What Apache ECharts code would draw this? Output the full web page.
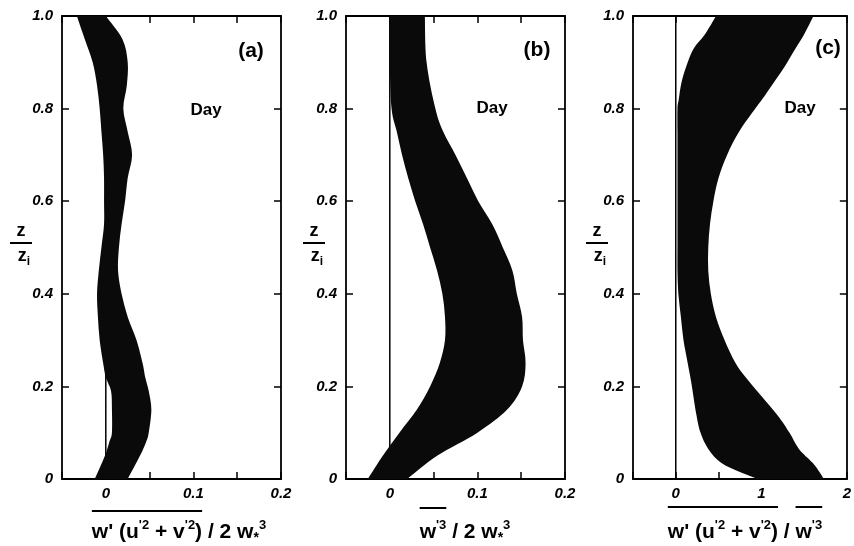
<!DOCTYPE html>
<html>
<head>
<meta charset="utf-8">
<script src="https://cdn.jsdelivr.net/npm/echarts@6/dist/echarts.min.js"></script>
<style>
  html, body { margin: 0; padding: 0; background: #fff; }
  #chart { width: 854px; height: 546px; }
</style>
</head>
<body>
<div id="chart"></div>
<script>
// z / zi levels and band edges, one set per panel
const zA = [0, 0.05, 0.08, 0.1, 0.15, 0.19, 0.22, 0.25, 0.3, 0.35, 0.4, 0.45, 0.5, 0.55, 0.6, 0.65, 0.7, 0.75, 0.8, 0.85, 0.9, 0.95, 1.0];
const leftA = [-0.0125, -0.001, 0.004, 0.007, 0.007, 0.006, 0.0, -0.003, -0.007, -0.009, -0.010, -0.008, -0.005, -0.002, -0.002, -0.002, -0.003, -0.005, -0.007, -0.010, -0.015, -0.024, -0.033];
const rightA = [0.025, 0.039, 0.046, 0.049, 0.052, 0.049, 0.045, 0.042, 0.035, 0.025, 0.018, 0.014, 0.015, 0.018, 0.022, 0.025, 0.030, 0.025, 0.020, 0.024, 0.025, 0.019, 0.0];

const zB = [0, 0.05, 0.1, 0.15, 0.2, 0.25, 0.3, 0.35, 0.4, 0.45, 0.5, 0.55, 0.6, 0.65, 0.7, 0.75, 0.8, 0.9, 1.0];
const leftB = [-0.025, -0.008, 0.011, 0.031, 0.046, 0.057, 0.063, 0.063, 0.060, 0.054, 0.046, 0.038, 0.029, 0.021, 0.014, 0.008, 0.002, 0.0, 0.0];
const rightB = [0.020, 0.054, 0.100, 0.134, 0.151, 0.155, 0.152, 0.151, 0.145, 0.140, 0.129, 0.117, 0.101, 0.088, 0.075, 0.061, 0.052, 0.042, 0.040];

const zC = [0, 0.015, 0.035, 0.065, 0.1, 0.14, 0.21, 0.25, 0.3, 0.35, 0.4, 0.45, 0.5, 0.55, 0.6, 0.65, 0.7, 0.75, 0.8, 0.82, 0.855, 0.89, 0.93, 0.96, 1.0];
const leftC = [0.96, 0.75, 0.53, 0.38, 0.29, 0.24, 0.18, 0.14, 0.09, 0.06, 0.03, 0.02, 0.02, 0.02, 0.02, 0.02, 0.02, 0.02, 0.02, 0.035, 0.065, 0.12, 0.21, 0.34, 0.47];
const rightC = [1.73, 1.68, 1.60, 1.44, 1.33, 1.18, 0.86, 0.70, 0.57, 0.47, 0.41, 0.38, 0.38, 0.40, 0.44, 0.50, 0.60, 0.74, 0.93, 1.01, 1.14, 1.27, 1.40, 1.50, 1.61];

// tick labels
const yLabels = ['0', '0.2', '0.4', '0.6', '0.8', '1.0'];
const xLabelsAB = ['0', '0.1', '0.2'];
const xLabelsC = ['0', '1', '2'];
const panelTags = ['(a)', '(b)', '(c)'];

// axis titles as [text, style] pieces; 'bar' marks pieces under an overbar
const titleA = [["w' (u", 'm', 1], ["'2", 's', 1], [' + v', 'm', 1], ["'2", 's', 1], [')', 'm', 1], [' / 2 w', 'm', 0], ['*', 'b', 0], ['3', 's', 0]];
const titleB = [['w', 'm', 1], ["'3", 's', 1], [' / 2 w', 'm', 0], ['*', 'b', 0], ['3', 's', 0]];
const titleC = [["w' (u", 'm', 1], ["'2", 's', 1], [' + v', 'm', 1], ["'2", 's', 1], [')', 'm', 1], [' / ', 'm', 0], ['w', 'm', 2], ["'3", 's', 2]];

const FONT = 'Liberation Sans';
const panels = [
  { z: zA, left: leftA, right: rightA, min: -0.05, max: 0.2, step: 0.05, labels: xLabelsAB, title: titleA },
  { z: zB, left: leftB, right: rightB, min: -0.05, max: 0.2, step: 0.05, labels: xLabelsAB, title: titleB },
  { z: zC, left: leftC, right: rightC, min: -0.5, max: 2, step: 0.5, labels: xLabelsC, title: titleC }
];
const gridLeft = [62, 346, 633];

// catmull-rom through the points, as cubic bezier segments
function smoothEdge(pts) {
  let d = '';
  for (let i = 0; i < pts.length - 1; i++) {
    const p0 = pts[Math.max(i - 1, 0)], p1 = pts[i], p2 = pts[i + 1], p3 = pts[Math.min(i + 2, pts.length - 1)];
    const c1 = [p1[0] + (p2[0] - p0[0]) / 6, p1[1] + (p2[1] - p0[1]) / 6];
    const c2 = [p2[0] - (p3[0] - p1[0]) / 6, p2[1] - (p3[1] - p1[1]) / 6];
    d += ' C' + c1.join(',') + ' ' + c2.join(',') + ' ' + p2.join(',');
  }
  return d;
}

const tickLabel = { fontFamily: FONT, fontWeight: 'bold', fontStyle: 'italic', fontSize: 15, color: '#000' };
const axisLine = { show: true, onZero: false, lineStyle: { color: '#000', width: 1.8 } };
const tick = { show: true, inside: true, length: 7, lineStyle: { color: '#000', width: 1.5 } };

const grid = [], xAxis = [], yAxis = [], series = [];
panels.forEach((p, g) => {
  grid.push({ left: gridLeft[g], top: 16, width: 219, height: 463 });
  xAxis.push({
    type: 'value', gridIndex: g, min: p.min, max: p.max, interval: p.step, position: 'bottom',
    axisLine: axisLine, axisTick: tick, splitLine: { show: false },
    axisLabel: Object.assign({ margin: 7, formatter: v => {
      const s = String(Math.round(v * 100) / 100);
      return p.labels.indexOf(s) >= 0 ? s : '';
    } }, tickLabel)
  });
  xAxis.push({
    type: 'value', gridIndex: g, min: p.min, max: p.max, interval: p.step, position: 'top',
    axisLine: axisLine, axisTick: tick, axisLabel: { show: false }, splitLine: { show: false }
  });
  yAxis.push({
    type: 'value', gridIndex: g, min: 0, max: 1, interval: 0.2, position: 'left',
    axisLine: axisLine, axisTick: tick, splitLine: { show: false },
    axisLabel: Object.assign({ margin: 9, formatter: (v) => yLabels[Math.round(v * 5)] }, tickLabel)
  });
  yAxis.push({
    type: 'value', gridIndex: g, min: 0, max: 1, interval: 0.2, position: 'right',
    axisLine: axisLine, axisTick: tick, axisLabel: { show: false }, splitLine: { show: false }
  });
  series.push({
    type: 'custom',
    xAxisIndex: 2 * g, yAxisIndex: 2 * g,
    clip: true,
    encode: { x: [0, 1], y: 2 },
    data: p.z.map((z, i) => [p.left[i], p.right[i], z]),
    renderItem: (params, api) => {
      if (params.dataIndex !== 0) return;
      const L = p.z.map((z, i) => api.coord([p.left[i], z]));
      const R = p.z.map((z, i) => api.coord([p.right[i], z])).reverse();
      const d = 'M' + L[0].join(',') + smoothEdge(L) + ' L' + R[0].join(',') + smoothEdge(R) + ' Z';
      const a = api.coord([0, 0]), b = api.coord([0, 1]);
      return {
        type: 'group',
        children: [
          { type: 'line', shape: { x1: a[0], y1: a[1], x2: b[0], y2: b[1] }, style: { stroke: '#000', lineWidth: 1.5 } },
          { type: 'path', shape: { pathData: d }, style: { fill: '#0a0a0a' } }
        ]
      };
    }
  });
});

// text decorations
const sizes = { m: 21, s: 13, b: 14 };
const rich = {
  m: { fontFamily: FONT, fontWeight: 'bold', fontSize: sizes.m },
  s: { fontFamily: FONT, fontWeight: 'bold', fontSize: sizes.s, padding: [0, 0, 13, 0] },
  b: { fontFamily: FONT, fontWeight: 'bold', fontSize: sizes.b, padding: [12, 0, 0, 0] },
  i: { fontFamily: FONT, fontWeight: 'bold', fontSize: 12, padding: [11, 0, 0, 0] }
};
const ctx = document.createElement('canvas').getContext('2d');
function textWidth(t, k) {
  ctx.font = 'bold ' + sizes[k] + 'px "' + FONT + '"';
  return ctx.measureText(t).width;
}

const graphic = [];
const tagPos = [[251, 51], [537, 50], [828, 48]];
const dayPos = [[206, 110], [492, 108], [800, 108]];
const fracX = [21, 314, 597];
const titleCenter = [179, 465, 745];
const barY = [511, 508, 507];
panels.forEach((p, g) => {
  graphic.push({ type: 'text', x: tagPos[g][0], y: tagPos[g][1], style: { text: panelTags[g], fontFamily: FONT, fontWeight: 'bold', fontSize: 21, fill: '#000', align: 'center', verticalAlign: 'middle' } });
  graphic.push({ type: 'text', x: dayPos[g][0], y: dayPos[g][1], style: { text: 'Day', fontFamily: FONT, fontWeight: 'bold', fontSize: 17, fill: '#000', align: 'center', verticalAlign: 'middle' } });
  const fx = fracX[g];
  graphic.push({ type: 'text', x: fx, y: 231, style: { text: 'z', fontFamily: FONT, fontWeight: 'bold', fontSize: 18, fill: '#000', align: 'center', verticalAlign: 'middle' } });
  graphic.push({ type: 'line', shape: { x1: fx - 11, y1: 243, x2: fx + 11, y2: 243 }, style: { stroke: '#000', lineWidth: 2 } });
  graphic.push({ type: 'text', x: fx + 3, y: 256, style: { text: '{m|z}{i|i}', rich: { m: { fontFamily: FONT, fontWeight: 'bold', fontSize: 18 }, i: rich.i }, align: 'center', verticalAlign: 'middle', fill: '#000' } });

  // title with measured overbars
  const widths = p.title.map(t => textWidth(t[0], t[1]));
  const total = widths.reduce((s, w) => s + w, 0);
  const x0 = titleCenter[g] - total / 2;
  graphic.push({ type: 'text', x: x0, y: 532, style: { text: p.title.map(t => '{' + t[1] + '|' + t[0] + '}').join(''), rich: rich, align: 'left', verticalAlign: 'middle', fill: '#000' } });
  let x = x0;
  const bars = {};
  p.title.forEach((t, i) => {
    if (t[2]) {
      const lead = t[0].match(/^ */)[0];
      const start = x + (lead ? textWidth(lead, t[1]) : 0);
      if (!bars[t[2]]) bars[t[2]] = [start, x + widths[i]];
      bars[t[2]][1] = x + widths[i];
    }
    x += widths[i];
  });
  Object.keys(bars).forEach(k => {
    graphic.push({ type: 'line', shape: { x1: bars[k][0], y1: barY[g], x2: bars[k][1], y2: barY[g] }, style: { stroke: '#000', lineWidth: 2 } });
  });
});

const chart = echarts.init(document.getElementById('chart'), null, { renderer: 'canvas' });
chart.setOption({
  animation: false,
  backgroundColor: '#fff',
  grid: grid,
  xAxis: xAxis,
  yAxis: yAxis,
  series: series,
  graphic: graphic
});
</script>
</body>
</html>
